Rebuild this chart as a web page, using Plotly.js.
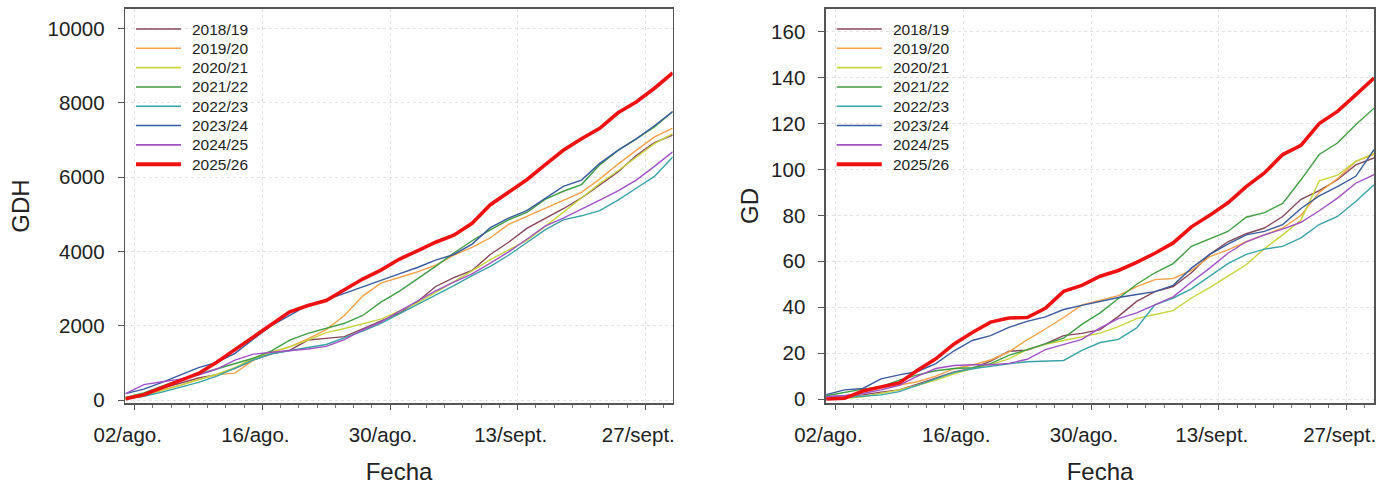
<!DOCTYPE html>
<html>
<head>
<meta charset="utf-8">
<script src="https://cdn.plot.ly/plotly-3.0.1.min.js"></script>
<style>html,body{margin:0;padding:0;background:#fff;}#chart{width:1395px;height:489px;}</style>
</head>
<body>
<div id="chart"></div>
<script>
// Dates (every 2 days, 1 Aug – 30 Sep)
const fechas = ['2025-08-01','2025-08-03','2025-08-05','2025-08-07','2025-08-09','2025-08-11','2025-08-13','2025-08-15',
  '2025-08-17','2025-08-19','2025-08-21','2025-08-23','2025-08-25','2025-08-27','2025-08-29','2025-08-31',
  '2025-09-02','2025-09-04','2025-09-06','2025-09-08','2025-09-10','2025-09-12','2025-09-14','2025-09-16',
  '2025-09-18','2025-09-20','2025-09-22','2025-09-24','2025-09-26','2025-09-28','2025-09-30'];

const temporadas = ['2018/19','2019/20','2020/21','2021/22','2022/23','2023/24','2024/25','2025/26'];
const colores = ['#86465a','#f4a24a','#c6d43e','#3f9e44','#3aa3a8','#3a5c9c','#a052c4','#ee1111'];

const tickFechas = ['2025-08-02','2025-08-16','2025-08-30','2025-09-13','2025-09-27'];
const tickTextos = ['02/ago.','16/ago.','30/ago.','13/sept.','27/sept.'];

// GDH (left panel)
const gdh_2018 = [60,170,320,470,600,690,860,1080,1250,1345,1620,1665,1710,1920,2130,2340,2650,3060,3300,3490,3920,4250,4620,4880,5150,5440,5780,6140,6580,6930,7130];
const gdh_2019 = [40,150,280,400,560,690,730,1080,1290,1435,1650,1900,2280,2800,3150,3300,3450,3630,3900,4110,4370,4730,4950,5150,5380,5590,5950,6350,6720,7080,7320];
const gdh_2020 = [30,130,260,400,540,700,880,1130,1300,1435,1620,1820,1930,2050,2180,2400,2620,2900,3180,3480,3780,4030,4300,4670,5060,5450,5830,6170,6545,6900,7170];
const gdh_2021 = [80,200,380,560,700,840,1000,1130,1330,1615,1800,1940,2070,2280,2640,2930,3260,3600,3960,4290,4580,4850,5050,5400,5620,5800,6330,6720,7030,7350,7760];
const gdh_2022 = [40,110,220,340,480,650,860,1080,1250,1345,1420,1500,1680,1860,2070,2320,2570,2820,3080,3350,3600,3900,4250,4580,4850,4960,5100,5380,5700,6020,6540];
const gdh_2023 = [180,300,480,690,880,1020,1260,1640,2010,2285,2560,2700,2880,3060,3230,3400,3570,3770,3920,4200,4640,4900,5100,5420,5750,5920,6370,6720,7030,7380,7760];
const gdh_2024 = [180,420,500,570,680,840,1080,1240,1290,1330,1380,1450,1630,1890,2100,2390,2660,2940,3180,3400,3690,3990,4330,4680,4900,5130,5380,5630,5920,6290,6680];
const gdh_2025 = [40,150,340,540,720,1020,1360,1720,2050,2380,2550,2680,2970,3260,3500,3790,4020,4250,4440,4760,5260,5600,5930,6330,6720,7030,7310,7730,8020,8390,8800];

// GD (right panel)
const gd_2018 = [1,1.3,1.8,3,4,6.5,9,11.8,13.3,16.5,20.8,21.3,24,27.6,28.6,30.2,36,42.5,46.8,49,55,63,68.5,72,74.5,79.5,87,90.8,95.5,102,105];
const gd_2019 = [0,0.8,3.5,5,6.1,7.5,10,13.2,14.8,17,20.5,25.8,30.5,35.5,41,43,45,49,52,52.5,56,62,65,68.5,71.5,74.5,80,90,96,103.5,106.5];
const gd_2020 = [0,0.3,1,2.5,4,6,8.2,11,13.3,15,17.5,21.5,23.8,25.5,27,28.7,31.5,35,36.8,38.5,44,48.5,53.5,58.5,65.5,71.5,78,95,97.5,103.5,107];
const gd_2021 = [1.4,3,4.3,5.4,8.2,10.5,12.3,13.3,13.6,15.4,19,21.5,24,26.5,32.5,37.5,43.8,50,55,59,66.5,69.8,73,79.2,81.2,85.2,95.5,106.5,111.5,119.5,126.7];
const gd_2022 = [0,0.6,1.2,1.8,3.2,6,9,11.6,13.2,14.4,15.3,16.2,16.4,16.8,21.2,24.6,26,31,41,44,48,53.5,59,63,65.3,66.5,70.2,76,79.5,86,93.3];
const gd_2023 = [1.9,4,4.6,8.8,10.5,12,15.4,21,25.5,27.6,31.2,33.8,35.8,39,40.8,42.5,44.2,45.5,46.8,49.5,57,63,67.5,71.5,73,76,83,88.5,92.5,97,108.6];
const gd_2024 = [1,1.5,2.4,4,6,10,13.3,14.6,14.9,14.9,15.5,17.3,21.5,23.8,26,31,35,37.5,41,44.5,51,57,63.5,68.5,71.5,74,77,82,87.5,94,97.7];
const gd_2025 = [0,0.3,3.5,5.3,7,12.5,17.5,24,29,33.5,35.3,35.5,39.5,46.9,49.5,53.5,56,59.5,63.5,68,75,80,85.5,92.5,98.5,106.5,110.5,120,125.3,132.5,139.8];

const gdhSeries = [gdh_2018,gdh_2019,gdh_2020,gdh_2021,gdh_2022,gdh_2023,gdh_2024,gdh_2025];
const gdSeries  = [gd_2018,gd_2019,gd_2020,gd_2021,gd_2022,gd_2023,gd_2024,gd_2025];

function lw(i) { return i === 7 ? 3.6 : 1.4; }

const traces = [];
gdhSeries.forEach((ys, i) => {
  traces.push({x: fechas, y: ys, type: 'scatter', mode: 'lines', name: temporadas[i],
    xaxis: 'x', yaxis: 'y', showlegend: false, line: {color: colores[i], width: lw(i)}});
});
gdSeries.forEach((ys, i) => {
  traces.push({x: fechas, y: ys, type: 'scatter', mode: 'lines', name: temporadas[i],
    xaxis: 'x2', yaxis: 'y2', showlegend: false, line: {color: colores[i], width: lw(i)}});
});

const FONT = 'Liberation Sans, Arial, sans-serif';
const DAY = 86400000;
function xax(domain, anchor) {
  return {
    type: 'date', domain: domain, anchor: anchor,
    range: ['2025-07-31 23:15', '2025-09-30 00:00'],
    tickmode: 'array', tickvals: tickFechas, ticktext: tickTextos,
    ticks: 'outside', ticklen: 5, tickwidth: 1, tickcolor: '#555',
    ticklabelshift: -7, ticklabelstandoff: 8,
    minor: {tickmode: 'linear', tick0: '2025-08-02', dtick: 2 * DAY, ticks: 'outside', ticklen: 3, tickcolor: '#777', showgrid: false},
    showline: true, mirror: true, linecolor: '#555', linewidth: 1.6,
    showgrid: true, gridcolor: '#e2e2e2', griddash: 'dot', gridwidth: 1,
    zeroline: false,
    tickfont: {family: FONT, size: 20.5, color: '#222'},
    title: {text: 'Fecha', font: {family: FONT, size: 24, color: '#222'}, standoff: 18}
  };
}
function yax(range, dtick, title, anchor, standoff) {
  return {
    domain: [0, 1], anchor: anchor, range: range, dtick: dtick, tick0: 0, tickformat: 'd',
    ticks: 'outside', ticklen: 6, tickwidth: 1, tickcolor: '#555',
    ticklabelstandoff: 9,
    showline: true, mirror: true, linecolor: '#555', linewidth: 1.6,
    showgrid: true, gridcolor: '#e2e2e2', griddash: 'dot', gridwidth: 1,
    zeroline: false,
    tickfont: {family: FONT, size: 20.5, color: '#222'},
    title: {text: title, font: {family: FONT, size: 24, color: '#222'}, standoff: standoff}
  };
}

// Manual legends (built from temporadas / colores), one per panel
const shapes = [], annotations = [];
const legX0 = 0.0195, legX1 = 0.1018, legTx = 0.119;
const legY0 = 0.9492, legDy = 0.049;
[['x','y'], ['x2','y2']].forEach(([xa, ya]) => {
  temporadas.forEach((t, i) => {
    const yy = legY0 - i * legDy;
    shapes.push({type: 'line', xref: xa + ' domain', yref: ya + ' domain',
      x0: legX0, x1: legX1, y0: yy, y1: yy,
      line: {color: colores[i], width: i === 7 ? 4 : 1.6}});
    annotations.push({xref: xa + ' domain', yref: ya + ' domain', x: legTx, y: yy,
      xanchor: 'left', yanchor: 'middle', showarrow: false, text: t,
      font: {family: FONT, size: 15.5, color: '#222'}});
  });
});

const layout = {
  width: 1395, height: 489,
  margin: {l: 0, r: 0, t: 9, b: 86},
  paper_bgcolor: '#fff', plot_bgcolor: '#fff',
  showlegend: false,
  xaxis: xax([125.3/1395, 672.7/1395], 'y'),
  yaxis: yax([-73, 10520], 2000, 'GDH', 'x', 11),
  xaxis2: xax([826/1395, 1374/1395], 'y2'),
  yaxis2: yax([-1.74, 169.9], 20, 'GD', 'x2', 5),
  shapes: shapes,
  annotations: annotations
};

Plotly.newPlot('chart', traces, layout, {staticPlot: true, displayModeBar: false});
</script>
</body>
</html>
